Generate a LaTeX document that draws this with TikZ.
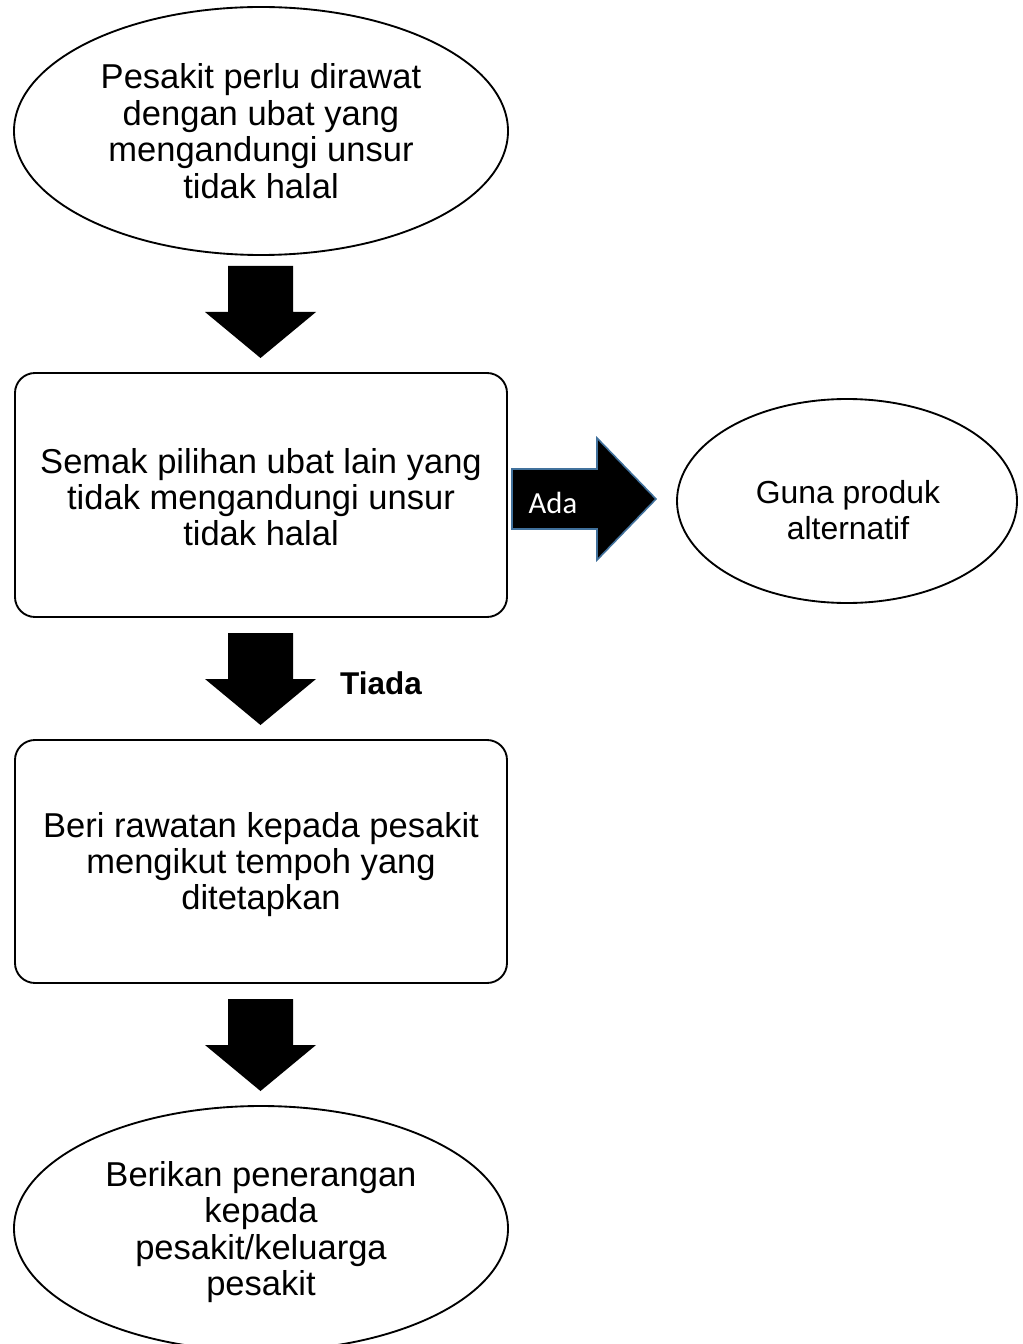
\documentclass[tikz,border=0pt]{standalone}
\usepackage{fontspec}
\setmainfont{Liberation Sans}
\newfontfamily\calibri{Carlito}
\definecolor{arrowblue}{HTML}{41719C}
\begin{document}
\begin{tikzpicture}[x=0.75pt,y=-0.75pt,
  outl/.style={draw=black,line width=1.4pt},
  ovaltxt/.style={align=center,inner sep=0pt,font=\fontsize{25.9}{27.4}\selectfont},
  boxtxt/.style={align=center,inner sep=0pt,font=\fontsize{25.9}{27.0}\selectfont},
  smalltxt/.style={align=center,inner sep=0pt,font=\fontsize{23.9}{26.5}\selectfont},
  darrow/.pic={\fill[black] (-32.5,0) -- (32.5,0) -- (32.5,46) -- (55.5,46) -- (0,92) -- (-55.5,46) -- (-32.5,46) -- cycle;}]
\useasboundingbox (0,0) rectangle (1022,1344);
\fill[white] (0,0) rectangle (1022,1344);
\clip (0,0) rectangle (1022,1344);

% top ellipse
\draw[outl] (261,131) ellipse [x radius=247, y radius=124];
\node[ovaltxt] (start) at (261,131) {Pesakit perlu dirawat\\dengan ubat yang\\mengandungi unsur\\tidak halal};

\pic (arr1) at (260.5,266) {darrow};

% check box
\draw[outl, rounded corners=15pt] (15,373) rectangle (507,617);
\node[boxtxt] (check) at (261,497) {Semak pilihan ubat lain yang\\tidak mengandungi unsur\\tidak halal};

% Ada arrow
\draw[fill=black, draw=arrowblue, line width=1.2pt, line join=miter]
  (512,469) -- (597,469) -- (597,438) -- (656,499) -- (597,560) -- (597,529) -- (512,529) -- cycle;
\node[text=white, inner sep=0pt, font=\calibri\fontsize{23}{26}\selectfont, anchor=base] (ada) at (553,513) {Ada};

% alternative ellipse
\draw[outl] (847,501) ellipse [x radius=170, y radius=102];
\node[smalltxt] (alt) at (848,510) {Guna produk\\alternatif};

\pic (arr2) at (260.5,633) {darrow};
\node[inner sep=0pt, font=\bfseries\fontsize{23.6}{28}\selectfont, anchor=base] (tiada) at (381,694) {Tiada};

% treatment box
\draw[outl, rounded corners=15pt] (15,740) rectangle (507,983);
\node[boxtxt] (treat) at (261,865) {Beri rawatan kepada pesakit\\mengikut tempoh yang\\ditetapkan};

\pic (arr3) at (260.5,999) {darrow};

% bottom ellipse
\draw[outl] (261,1228.5) ellipse [x radius=247, y radius=122.5];
\node[ovaltxt] (explain) at (261,1232) {Berikan penerangan\\kepada\\pesakit/keluarga\\pesakit};
\end{tikzpicture}
\end{document}
